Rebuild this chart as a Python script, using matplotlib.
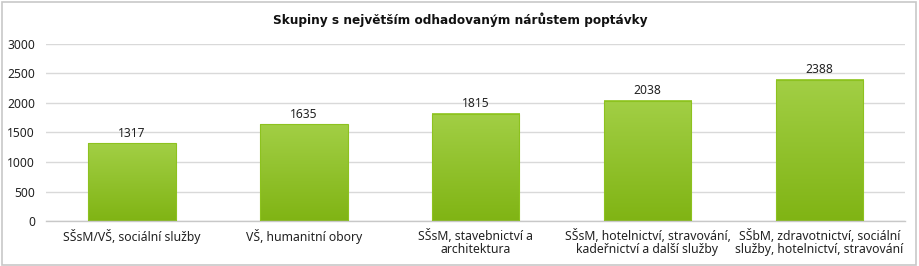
import matplotlib
matplotlib.use("Agg")
import matplotlib.pyplot as plt
import numpy as np
from matplotlib.patches import Rectangle
from matplotlib.colors import LinearSegmentedColormap

categories = [
    "SŠsM/VŠ, sociální služby",
    "VŠ, humanitní obory",
    "SŠsM, stavebnictví a\narchitektura",
    "SŠsM, hotelnictví, stravování,\nkadeřnictví a další služby",
    "SŠbM, zdravotnictví, sociální\nslužby, hotelnictví, stravování",
]
values = [1317, 1635, 1815, 2038, 2388]
yticks = [0, 500, 1000, 1500, 2000, 2500, 3000]
title = "Skupiny s největším odhadovaným nárůstem poptávky"

plt.rcParams['font.family'] = ['Noto Sans', 'DejaVu Sans']

fig = plt.figure(figsize=(9.2, 2.66), dpi=100)
fig.patch.set_facecolor("white")
fig.patches.append(Rectangle((0.002, 0.004), 0.994, 0.99, transform=fig.transFigure,
                             fill=False, edgecolor="#c8c8c8", linewidth=1.2))

ax = fig.add_axes([0.05, 0.169, 0.934, 0.666])
x = np.arange(len(categories))
width = 0.51
cmap = LinearSegmentedColormap.from_list("g", ["#80b414", "#a2cf45"])
grad = np.linspace(0, 1, 256).reshape(-1, 1)
bars = ax.bar(x, values, width=width, color="none", edgecolor="#8dc21f", linewidth=0.8, zorder=3)
for b in bars:
    bx, by = b.get_x(), b.get_y()
    ax.imshow(grad, cmap=cmap, origin="lower", aspect="auto",
              extent=[bx, bx + b.get_width(), by, by + b.get_height()], zorder=2)
for xi, v in zip(x, values):
    ax.text(xi, v + 60, str(v), ha="center", va="bottom", fontsize=8.7, color="#222222")

ax.set_xlim(-0.5, len(categories) - 0.5)
ax.set_ylim(0, 3000)
ax.set_yticks(yticks)
ax.set_yticklabels([str(t) for t in yticks], fontsize=8.7, color="#222222")
ax.set_xticks(x)
ax.set_xticklabels(categories, fontsize=8.8, color="#222222", linespacing=1.0)
ax.tick_params(axis="both", length=0)
ax.tick_params(axis="y", pad=8)
ax.tick_params(axis="x", pad=6)
ax.grid(axis="y", color="#d9d9d9", linewidth=1, zorder=0)
ax.set_axisbelow(True)
for s in ["top", "right", "left"]:
    ax.spines[s].set_visible(False)
ax.spines["bottom"].set_color("#c8c8c8")
ax.spines["bottom"].set_linewidth(1)

fig.text(0.5, 0.925, title, ha="center", va="center", fontsize=8.7, fontweight="bold",
         color="#111111", family="DejaVu Sans")

fig.savefig("out.png", dpi=100, facecolor="white")
